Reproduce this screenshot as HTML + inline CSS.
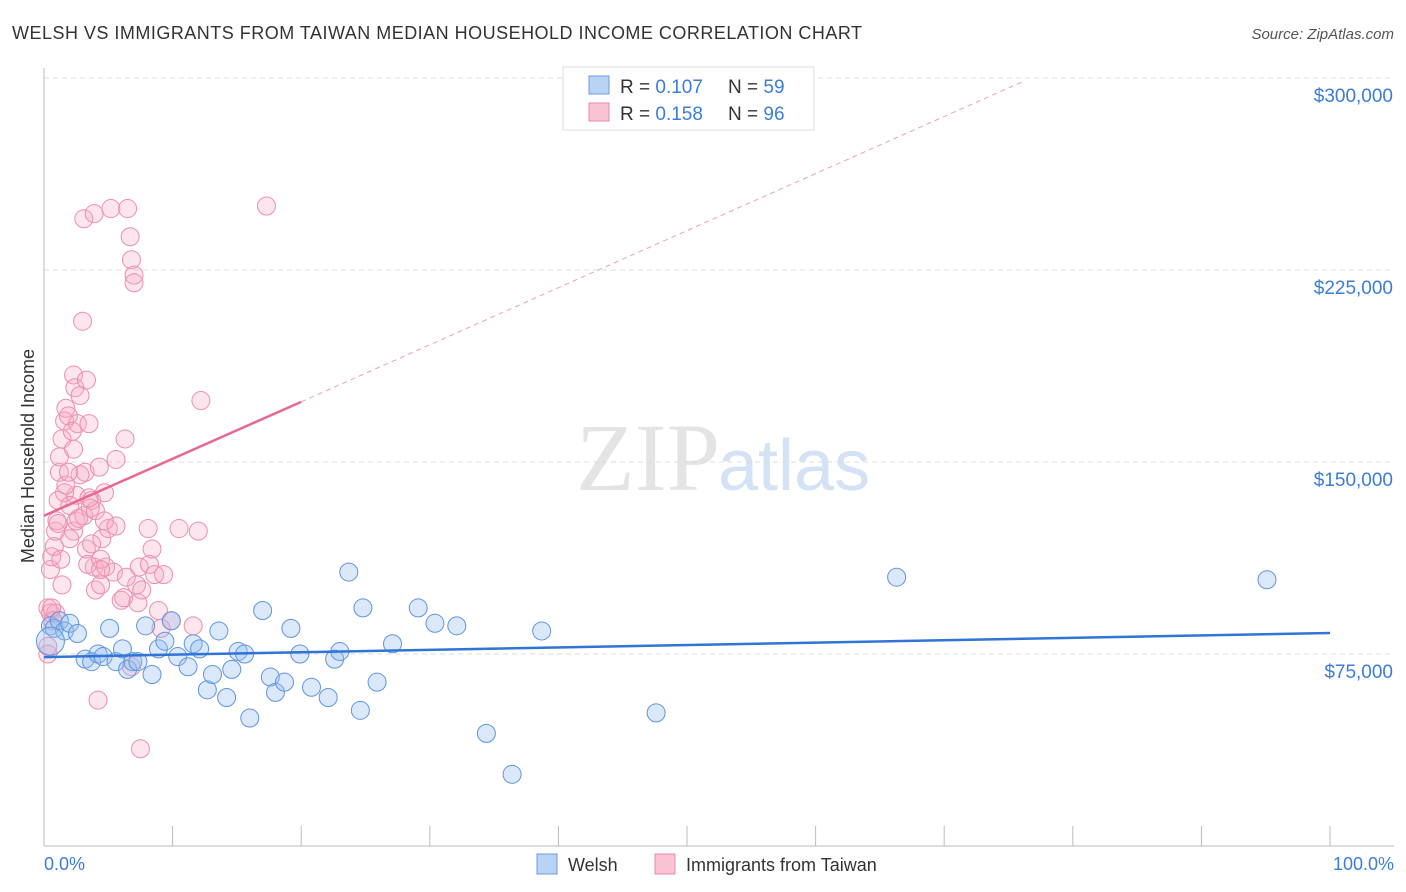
<!DOCTYPE html>
<html><head><meta charset="utf-8"><style>
body{margin:0;background:#fff;font-family:"Liberation Sans",sans-serif;}
svg{display:block}
</style></head><body>
<svg id="c" width="1406" height="892">
<text x="12" y="39" font-size="18" fill="#333" textLength="850" lengthAdjust="spacing">WELSH VS IMMIGRANTS FROM TAIWAN MEDIAN HOUSEHOLD INCOME CORRELATION CHART</text>
<text x="1394" y="39" font-size="15" fill="#555" font-style="italic" text-anchor="end">Source: ZipAtlas.com</text>
<text x="720" y="490" font-size="96" fill="#e4e4e4" text-anchor="end" font-family="Liberation Serif,serif">ZIP</text>
<text x="718" y="490" font-size="72" fill="#d3e2f5">atlas</text>
<g id="grid"></g>
<line x1="44" y1="68" x2="44" y2="846" stroke="#bbb"/>
<line x1="44" y1="846" x2="1394" y2="846" stroke="#bbb"/>
<text transform="translate(34,456) rotate(-90)" font-size="18" fill="#333" text-anchor="middle">Median Household Income</text>
<text x="44" y="870" font-size="18" fill="#3b7dd8">0.0%</text>
<text x="1394" y="870" font-size="18" fill="#3b7dd8" text-anchor="end">100.0%</text>
<g id="pts"></g>
<g id="lines"></g>
<g>
<rect x="563" y="67" width="251" height="63" fill="#fff" stroke="#ddd"/>
<rect x="589" y="76" width="20" height="18" fill="#b9d3f5" stroke="#6a9be0"/>
<rect x="589" y="103" width="20" height="18" fill="#f9c3d3" stroke="#e88aa6"/>
<text x="620" y="93" font-size="19" fill="#333">R = <tspan fill="#3b7dd8">0.107</tspan></text>
<text x="728" y="93" font-size="19" fill="#333">N = <tspan fill="#3b7dd8">59</tspan></text>
<text x="620" y="120" font-size="19" fill="#333">R = <tspan fill="#3b7dd8">0.158</tspan></text>
<text x="728" y="120" font-size="19" fill="#333">N = <tspan fill="#3b7dd8">96</tspan></text>
</g>
<g>
<rect x="537" y="854" width="20" height="20" fill="#b9d3f5" stroke="#6a9be0"/>
<text x="568" y="871" font-size="18" fill="#333">Welsh</text>
<rect x="655" y="854" width="20" height="20" fill="#f9c3d3" stroke="#e88aa6"/>
<text x="686" y="871" font-size="18" fill="#333">Immigrants from Taiwan</text>
</g>
</svg>
<script>
const yTicks=[75000,150000,225000,300000];
const yTickLabels=["$75,000","$150,000","$225,000","$300,000"];
const xTicks=[0,10,20,30,40,50,60,70,80,90,100];
const welshX=[0.5,0.8,1.2,1.6,2,2.6,3.2,3.7,4.2,4.6,5.1,5.6,6.1,6.5,6.9,7.3,7.9,8.4,8.9,9.4,9.9,10.4,11.2,11.6,12.1,12.7,13.1,13.6,14.2,14.6,15.1,15.6,16.0,17.0,17.6,18.0,18.7,19.2,19.9,20.8,22.1,22.6,23.0,23.7,24.6,24.8,25.9,27.1,29.1,30.4,32.1,34.4,36.4,38.7,47.6,66.3,95.1,0.5];
const welshY=[86000,85000,88000,84000,87000,83000,73000,72000,75000,74000,85000,72000,77000,69000,72000,72000,86000,67000,77000,80000,88000,74000,70000,79000,77000,61000,67000,84000,58000,69000,76000,75000,50000,92000,66000,60000,64000,85000,75000,62000,58000,73000,76000,107000,53000,93000,64000,79000,93000,87000,86000,44000,28000,84000,52000,105000,104000,80000];
const twX=[0.3,0.3,0.5,0.5,0.6,0.8,0.9,1.0,1.1,1.2,1.2,1.4,1.6,1.7,1.9,2.3,2.4,2.3,2.3,2.5,2.6,2.8,3.0,3.1,3.2,3.3,3.3,3.5,3.7,3.9,3.9,4.0,4.2,4.4,4.5,4.7,4.8,5.0,5.2,5.4,5.6,6.0,6.2,6.3,6.5,6.7,6.8,6.8,7.0,7.0,7.2,7.3,7.4,7.5,8.1,8.2,8.4,8.6,8.9,9.1,9.9,10.5,12.0,12.2,17.3,2.8,1.1,1.6,2.0,2.5,3.4,4.4,3.1,1.7,1.9,2.2,3.7,4.4,1.4,0.9,0.6,4.0,4.7,3.6,0.3,0.7,1.3,2.0,2.7,3.5,4.3,5.6,6.4,7.6,9.3,11.6];
const twY=[75000,93000,91000,108000,113000,117000,123000,127000,135000,146000,152000,159000,166000,171000,168000,184000,179000,155000,123000,137000,165000,176000,205000,245000,146000,116000,182000,165000,135000,247000,109000,100000,57000,102000,120000,138000,109000,124000,249000,107000,151000,96000,97000,159000,249000,238000,229000,70000,223000,220000,102000,95000,109000,38000,124000,110000,116000,106000,92000,85000,88000,124000,123000,174000,250000,145000,126000,138000,133000,127000,110000,112000,129000,141000,146000,162000,118000,108000,102000,91000,93000,131000,127000,132000,78000,88000,112000,120000,128000,136000,148000,125000,105000,100000,106000,86000];
const X=v=>44+v*12.86, Y=v=>846-v*192/75000;
const ns="http://www.w3.org/2000/svg";
function mk(t,a,p){const e=document.createElementNS(ns,t);for(const k in a)e.setAttribute(k,a[k]);p.appendChild(e);return e;}
const g=document.getElementById('grid');
yTicks.forEach((v,i)=>{
 const l=mk('line',{x1:44,x2:1394,y1:Y(v),y2:Y(v),stroke:'#ddd','stroke-dasharray':'5,4'},g);
 
 
 const t=mk('text',{x:1393,y:Y(v)+24,'font-size':19,fill:'#3b7dd8','text-anchor':'end'},g);
 t.textContent=yTickLabels[i];
 
 
});
xTicks.forEach(v=>{
 const l=mk('line',{x1:X(v),x2:X(v),y1:826,y2:846,stroke:'#bbb'},g);
 
 
});
const p=document.getElementById('pts');
twX.forEach((x,i)=>{
 const c=mk('circle',{cx:X(x),cy:Y(twY[i]),r:9,fill:'rgba(246,170,195,0.3)',stroke:'#eb8fac','stroke-width':1},p);
 
 
});
welshX.forEach((x,i)=>{
 const c=mk('circle',{cx:X(x),cy:Y(welshY[i]),r:i==welshX.length-1?14:9,fill:'rgba(150,190,240,0.35)',stroke:'#5f95dd','stroke-width':1},p);
 
 
});
const L=document.getElementById('lines');
const bl=mk('line',{x1:X(0),y1:Y(73800),x2:X(100),y2:Y(83200),stroke:'#2f74d6','stroke-width':2.5},L);


const pl=mk('line',{x1:X(0),y1:Y(129000),x2:X(20),y2:Y(173500),stroke:'#e8688f','stroke-width':2.5},L);


const pd=mk('line',{x1:X(20),y1:Y(173500),x2:X(76.3),y2:Y(299000),stroke:'#eaa0b8','stroke-width':1,'stroke-dasharray':'5,4'},L);


</script>
</body></html>
